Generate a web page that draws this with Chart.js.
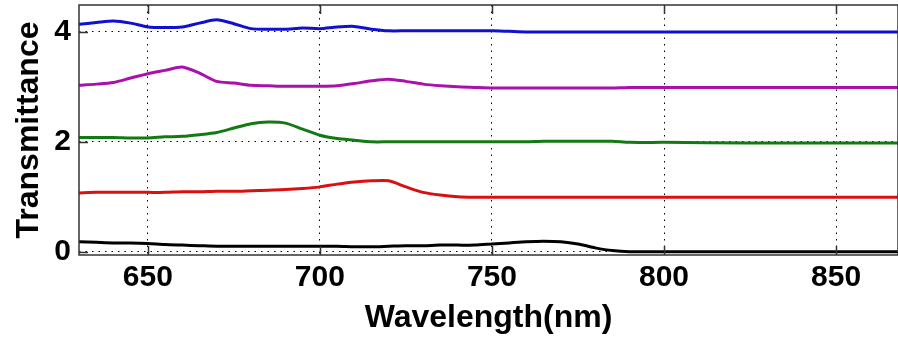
<!DOCTYPE html>
<html>
<head>
<meta charset="utf-8">
<script src="https://cdn.jsdelivr.net/npm/chart.js@4.4.1/dist/chart.umd.min.js"></script>
<style>
  html, body { margin: 0; padding: 0; background: #fff; }
  #wrap { width: 898px; height: 339px; }
</style>
</head>
<body>
<div id="wrap"><canvas id="grafik"></canvas></div>
<script>
// data, x = wavelength in nm
const wavelength = [630, 635, 640, 645, 650, 655, 660, 665, 670, 675, 680, 685, 690, 695, 700,
                    705, 710, 715, 720, 725, 730, 735, 740, 745, 750, 755, 760, 765, 770, 775,
                    780, 785, 790, 800, 825, 850, 868];

const seriesBlue = [4.14, 4.17, 4.20, 4.16, 4.09, 4.08, 4.09, 4.16, 4.22, 4.15, 4.06, 4.05, 4.05, 4.07, 4.06,
                    4.09, 4.10, 4.05, 4.02, 4.02, 4.02, 4.02, 4.02, 4.02, 4.02, 4.01, 4.00, 4.00, 4.00, 4.00,
                    4.00, 4.00, 4.00, 4.00, 4.00, 4.00, 4.00];

const seriesMagenta = [3.03, 3.05, 3.08, 3.16, 3.24, 3.30, 3.36, 3.25, 3.10, 3.07, 3.03, 3.02, 3.01, 3.01, 3.01,
                       3.02, 3.06, 3.11, 3.14, 3.10, 3.05, 3.02, 3.00, 2.99, 2.98, 2.98, 2.98, 2.98, 2.98, 2.98,
                       2.98, 2.98, 2.99, 2.99, 2.99, 2.99, 2.99];

const seriesGreen = [2.08, 2.08, 2.08, 2.07, 2.07, 2.09, 2.10, 2.13, 2.17, 2.25, 2.33, 2.36, 2.34, 2.23, 2.12,
                     2.06, 2.03, 2.00, 2.00, 2.00, 2.00, 2.00, 2.00, 2.00, 2.00, 2.00, 2.00, 2.01, 2.01, 2.01,
                     2.01, 2.01, 1.99, 1.99, 1.98, 1.98, 1.98];

const seriesRed = [1.07, 1.08, 1.08, 1.08, 1.08, 1.08, 1.09, 1.09, 1.10, 1.10, 1.11, 1.12, 1.13, 1.15, 1.18,
                   1.23, 1.27, 1.29, 1.29, 1.18, 1.08, 1.03, 1.00, 0.99, 0.99, 0.99, 0.99, 0.99, 0.99, 0.99,
                   0.99, 0.99, 0.99, 0.99, 0.99, 0.99, 0.99];

const seriesBlack = [0.18, 0.17, 0.16, 0.16, 0.15, 0.13, 0.12, 0.11, 0.10, 0.10, 0.10, 0.10, 0.10, 0.10, 0.10,
                     0.10, 0.09, 0.09, 0.10, 0.11, 0.11, 0.12, 0.12, 0.12, 0.14, 0.16, 0.18, 0.19, 0.18, 0.14,
                     0.07, 0.02, 0.00, 0.00, 0.00, 0.00, 0.00];

const xTicks = [650, 700, 750, 800, 850];
const yTicks = [0, 2, 4];

function toPoints(values) {
    return values.map((v, i) => ({ x: wavelength[i], y: v }));
}

function garis(values, warna) {
    return {
        data: toPoints(values),
        borderColor: warna,
        borderWidth: 3,
        pointRadius: 0,
        tension: 0.25,
        fill: false
    };
}

// kotak + tick kecil ke dalam (gaya matlab)
const kotakPlugin = {
    id: 'kotak',
    afterDraw(chart) {
        const { ctx, chartArea: a, scales } = chart;
        ctx.save();
        ctx.strokeStyle = '#333';
        ctx.lineWidth = 1.5;
        ctx.strokeRect(a.left, a.top, a.right - a.left, a.bottom - a.top);
        ctx.beginPath();
        xTicks.forEach(v => {
            const px = Math.round(scales.x.getPixelForValue(v)) + 0.5;
            ctx.moveTo(px, a.bottom); ctx.lineTo(px, a.bottom - 9);
            ctx.moveTo(px, a.top); ctx.lineTo(px, a.top + 9);
        });
        yTicks.forEach(v => {
            const py = Math.round(scales.y.getPixelForValue(v)) + 0.5;
            ctx.moveTo(a.left, py); ctx.lineTo(a.left + 9, py);
        });
        ctx.stroke();
        ctx.restore();
    }
};

const fontTebal = { family: "'Liberation Sans', Arial, sans-serif", size: 30, weight: 'bold', lineHeight: 1 };

new Chart(document.getElementById('grafik'), {
    type: 'line',
    data: {
        datasets: [
            garis(seriesBlue, '#1010d0'),
            garis(seriesMagenta, '#ac10ac'),
            garis(seriesGreen, '#137a13'),
            garis(seriesRed, '#d81010'),
            garis(seriesBlack, '#000000')
        ]
    },
    options: {
        responsive: true,
        maintainAspectRatio: false,
        animation: false,
        layout: { padding: { top: 5, right: 0, left: 9, bottom: 0 } },
        plugins: { legend: { display: false }, tooltip: { enabled: false } },
        scales: {
            x: {
                type: 'linear',
                min: 630,
                max: 868,
                afterBuildTicks: scale => { scale.ticks = xTicks.map(v => ({ value: v })); },
                afterFit: scale => { scale.height = 84; },
                ticks: { color: '#000', font: fontTebal, padding: 8, maxRotation: 0 },
                grid: { color: '#000', lineWidth: 1, drawTicks: false },
                border: { display: false, dash: [1.5, 5] },
                title: { display: true, text: 'Wavelength(nm)', color: '#000', font: { ...fontTebal, size: 32 }, padding: { top: 0, bottom: 5 } }
            },
            y: {
                min: -0.06,
                max: 4.49,
                afterBuildTicks: scale => { scale.ticks = yTicks.map(v => ({ value: v })); },
                afterFit: scale => { scale.paddingTop = 0; scale.paddingBottom = 0; scale.width = 70; },
                ticks: { color: '#000', font: fontTebal, padding: 8 },
                grid: { color: '#000', lineWidth: 1, drawTicks: false },
                border: { display: false, dash: [1.5, 5] },
                title: { display: true, text: 'Transmittance', color: '#000', font: { ...fontTebal, size: 32 }, padding: { top: 4, bottom: 0 } }
            }
        }
    },
    plugins: [kotakPlugin]
});
</script>
</body>
</html>
